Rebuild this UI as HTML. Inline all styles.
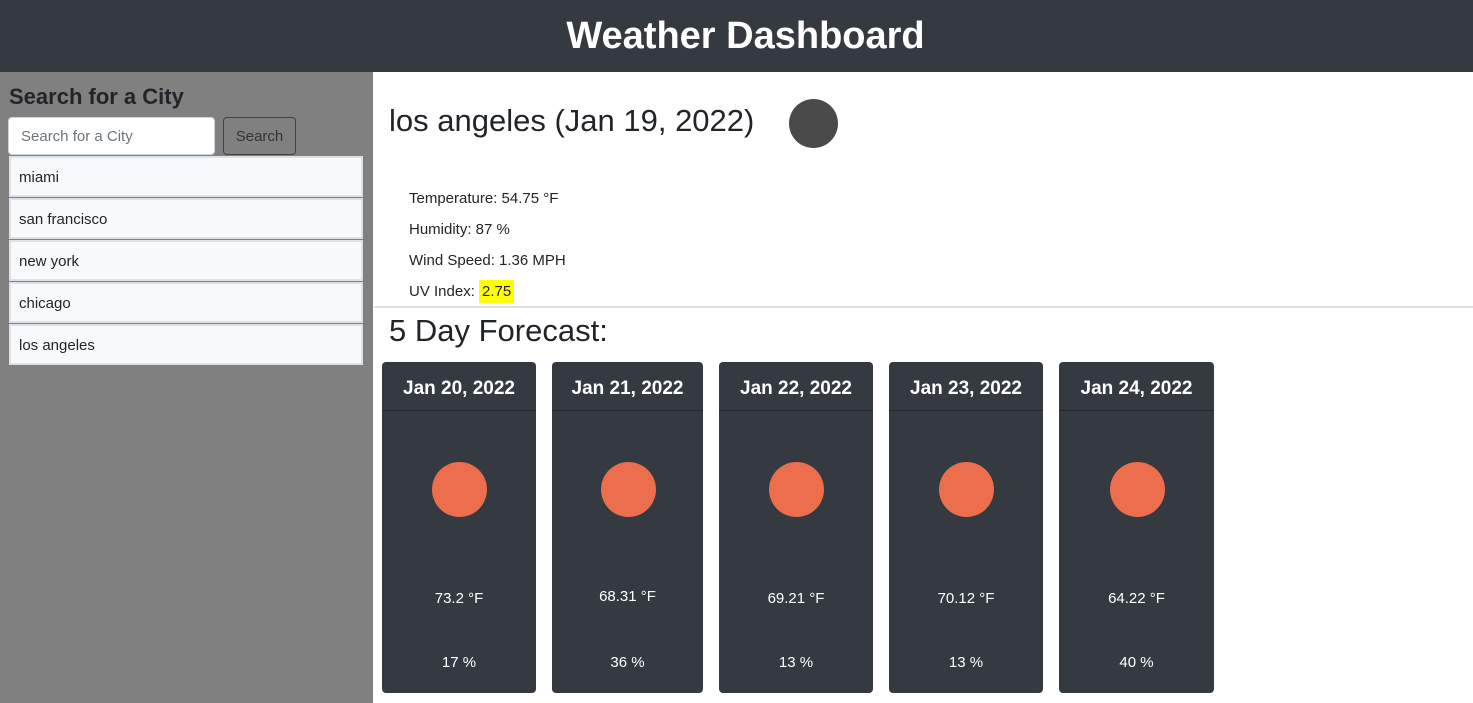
<!DOCTYPE html>
<html><head><meta charset="utf-8"><style>
*{box-sizing:border-box;margin:0;padding:0}
body{width:1473px;height:703px;overflow:hidden;background:#fff;font-family:"Liberation Sans",sans-serif;color:#212529;position:relative}
.a{position:absolute}
#hdr{left:0;top:0;width:1473px;height:72px;background:#343a40;color:#fff;font-size:38px;font-weight:bold;text-align:center;line-height:72px;padding-left:18px}
#side{left:0;top:72px;width:373px;height:631px;background:#808080}
.item{position:absolute;left:9px;width:354px;height:41px;background:#f8f9fa;border:2px solid #dee2e6;font-size:15px;line-height:40px;padding-left:8px}
.card{position:absolute;top:362px;height:331px;background:#343a40;border-radius:4px;color:#fff;text-align:center}
.card .h{height:49px;border-bottom:1px solid #23272b;font-size:19px;font-weight:bold;line-height:54px}
.sun{position:absolute;width:55px;height:55px;border-radius:50%;background:#ec6e4c;top:100px;left:50%;margin-left:-27px}
.t{position:absolute;width:100%;top:228px;font-size:15px}
.u{position:absolute;width:100%;top:292px;font-size:15px}
.d{font-size:15px;left:409px}
</style></head><body>
<div id="hdr" class="a">Weather Dashboard</div>
<div id="side" class="a"></div>
<div class="a" style="left:9px;top:84px;font-size:22px;font-weight:bold;color:#212529">Search for a City</div>
<div class="a" style="left:8px;top:117px;width:207px;height:38px;background:#fff;border-radius:4px;border:1px solid #ced4da;font-size:15px;color:#6c757d;line-height:38px;padding-left:12px">Search for a City</div>
<div class="a" style="left:223px;top:117px;width:73px;height:38px;border:1px solid #444;border-radius:4px;font-size:15px;color:#333;line-height:38px;text-align:center">Search</div>
<div class="item" style="top:156px">miami</div>
<div class="item" style="top:198px">san francisco</div>
<div class="item" style="top:240px">new york</div>
<div class="item" style="top:282px">chicago</div>
<div class="item" style="top:324px">los angeles</div>
<div class="a" style="left:389px;top:103px;font-size:31px">los angeles (Jan 19, 2022)</div>
<div class="a" style="left:789px;top:99px;width:49px;height:49px;border-radius:50%;background:#4a4a4a"></div>
<div class="a d" style="top:190px">Temperature: 54.75 °F</div>
<div class="a d" style="top:221px">Humidity: 87 %</div>
<div class="a d" style="top:252px">Wind Speed: 1.36 MPH</div>
<div class="a d" style="top:283px">UV Index: <span style="background:#ff0;padding:3px 3px">2.75</span></div>
<div class="a" style="left:374px;top:306px;width:1099px;height:2px;background:#dee2e6"></div>
<div class="a" style="left:389px;top:313px;font-size:31px">5 Day Forecast:</div>
<div class="card" style="left:382px;width:154px"><div class="h">Jan 20, 2022</div><div class="sun"></div><div class="t">73.2 °F</div><div class="u">17 %</div></div>
<div class="card" style="left:552px;width:151px"><div class="h">Jan 21, 2022</div><div class="sun"></div><div class="t" style="top:226px">68.31 °F</div><div class="u">36 %</div></div>
<div class="card" style="left:719px;width:154px"><div class="h">Jan 22, 2022</div><div class="sun"></div><div class="t">69.21 °F</div><div class="u">13 %</div></div>
<div class="card" style="left:889px;width:154px"><div class="h">Jan 23, 2022</div><div class="sun"></div><div class="t">70.12 °F</div><div class="u">13 %</div></div>
<div class="card" style="left:1059px;width:155px"><div class="h">Jan 24, 2022</div><div class="sun"></div><div class="t">64.22 °F</div><div class="u">40 %</div></div>
</body></html>
